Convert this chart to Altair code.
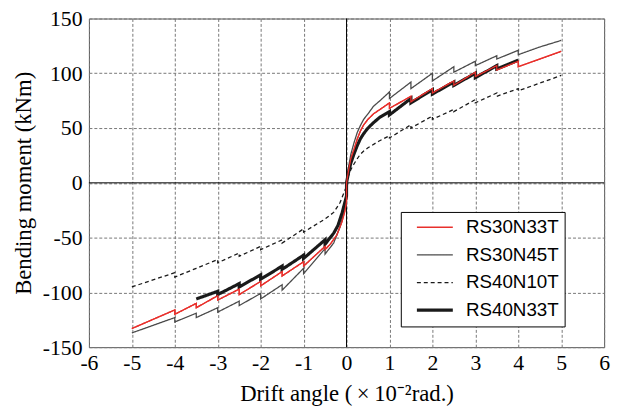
import altair as alt
import pandas as pd

series_names = ["RS30N33T", "RS30N45T", "RS40N10T", "RS40N33T"]
series_colors = ["#e8302c", "#4a4a4a", "#1a1a1a", "#1a1a1a"]
series_dash = [[1, 0], [1, 0], [4, 3], [1, 0]]
series_width = [1.3, 1.3, 1.3, 3.2]

drift_rs30n33t = [-5, -4, -4, -3.5, -3.5, -3, -3, -2.5, -2.5, -2, -2, -1.5, -1.5, -1, -1, -0.5, -0.5,
                  -0.38, -0.23, -0.11, -0.04, 0,
                  0, 0.05, 0.1, 0.17, 0.25, 0.32, 0.4, 0.5, 0.63, 0.78, 1, 1, 1.5, 1.5, 2, 2,
                  2.5, 2.5, 3, 3, 3.5, 3.5, 4, 4, 4.5, 5]
moment_rs30n33t = [-133, -116, -120, -110, -114, -103, -107, -97, -102, -90, -94, -81, -85, -72, -76, -58, -61,
                   -56, -48, -36, -26, -17,
                   0, 12, 22, 30, 40, 47, 53, 58, 63, 67, 73, 68, 79, 74, 86, 82,
                   93, 89, 101, 97, 107, 103, 111, 106, 113, 120]

drift_rs30n45t = [-5, -4, -4, -3.5, -3.5, -3, -3, -2.5, -2.5, -2, -2, -1.5, -1.5, -1, -1, -0.5, -0.5,
                  -0.3, -0.15, -0.07, 0,
                  0, 0.05, 0.1, 0.17, 0.25, 0.32, 0.4, 0.5, 0.63, 0.78, 1, 1, 1.5, 1.5, 2, 2,
                  2.5, 2.5, 3, 3, 3.5, 3.5, 4, 4, 4.5, 5]
moment_rs30n45t = [-137, -123, -127, -119, -123, -114, -118, -108, -112, -101, -106, -93, -98, -78, -83, -60, -65,
                   -55, -40, -28, -15,
                   0, 15, 26, 36, 46, 52, 58, 63, 70, 75, 83, 77, 92, 86, 100, 93,
                   106, 101, 111, 107, 116, 113, 121, 117, 124, 130]

drift_rs40n10t = [-5, -4, -4, -3.5, -3, -3, -2.5, -2.5, -2, -2, -1.5, -1.5, -1, -1, -0.5,
                  -0.3, -0.15, -0.05, 0,
                  0, 0.05, 0.1, 0.17, 0.25, 0.32, 0.4, 0.5, 0.75, 1, 1, 1.5, 1.5, 2, 2,
                  2.5, 2.5, 3, 3, 3.5, 3.5, 4, 4, 5]
moment_rs40n10t = [-95, -82, -86, -78, -70, -73, -64, -67, -58, -61, -52, -55, -42, -45, -33,
                   -27, -18, -8, -3,
                   0, 7, 12, 17, 22, 26, 29, 32, 38, 43, 41, 53, 50, 61, 58,
                   67, 65, 76, 73, 82, 79, 86, 84, 98]

drift_rs40n33t = [-3.5, -3, -3, -2.5, -2.5, -2, -2, -1.5, -1.5, -1, -1, -0.5, -0.5,
                  -0.3, -0.2, -0.1, 0,
                  0, 0.05, 0.1, 0.17, 0.25, 0.32, 0.4, 0.5, 0.63, 0.78, 1, 1, 1.5, 1.5, 2, 2,
                  2.5, 2.5, 3, 3, 3.5, 3.5, 4]
moment_rs40n33t = [-106, -99, -102, -92, -95, -84, -88, -76, -79, -66, -69, -52, -56,
                   -46, -39, -27, -12,
                   0, 10, 18, 26, 34, 40, 45, 50, 55, 60, 65, 62, 77, 73, 85, 81,
                   92, 89, 100, 96, 107, 104, 112]

x_ticks = list(range(-6, 7))
y_ticks = list(range(-150, 151, 25))

rows = []
for name, xs, ms in [("RS30N33T", drift_rs30n33t, moment_rs30n33t),
                     ("RS30N45T", drift_rs30n45t, moment_rs30n45t),
                     ("RS40N10T", drift_rs40n10t, moment_rs40n10t),
                     ("RS40N33T", drift_rs40n33t, moment_rs40n33t)]:
    for i, (xv, mv) in enumerate(zip(xs, ms)):
        rows.append({"series": name, "drift": xv, "moment": mv, "idx": i})
df = pd.DataFrame(rows)

serif = "Liberation Serif"

x_enc = alt.X("drift:Q", scale=alt.Scale(domain=[-6, 6], nice=False),
              axis=alt.Axis(values=x_ticks, title="Drift angle (\u2009×\u200910⁻²rad.)", labelFlush=False,
                            labelExpr="toString(datum.value)", labelFont=serif, labelFontSize=22,
                            titleFont=serif, titleFontSize=23, titleFontWeight="normal"))
y_enc = alt.Y("moment:Q", scale=alt.Scale(domain=[-150, 150], nice=False),
              axis=alt.Axis(values=y_ticks, title="Bending moment (kNm)", labelFlush=False,
                            labelExpr="datum.value % 50 == 0 ? toString(datum.value) : ''",
                            labelFont=serif, labelFontSize=22,
                            titleFont=serif, titleFontSize=23, titleFontWeight="normal"))

legend = alt.Legend(title=None, orient="none", legendX=316, legendY=196,
                    labelExpr="datum.label + '    '")
color_enc = alt.Color("series:N", scale=alt.Scale(type="ordinal", domain=series_names, range=series_colors),
                      legend=legend)
dash_enc = alt.StrokeDash("series:N", scale=alt.Scale(type="ordinal", domain=series_names, range=series_dash),
                          legend=legend)
width_enc = alt.StrokeWidth("series:N", scale=alt.Scale(type="ordinal", domain=series_names, range=series_width),
                            legend=legend)

lines = alt.Chart(df).mark_line(strokeCap="butt", strokeJoin="miter").encode(
    x=x_enc, y=y_enc, color=color_enc, strokeDash=dash_enc, strokeWidth=width_enc,
    order=alt.Order("idx:Q"), detail="series:N")

red_top = alt.Chart(df).transform_filter(alt.datum.series == "RS30N33T").mark_line(
    strokeCap="butt", strokeJoin="miter").encode(
    x=x_enc, y=y_enc, color=color_enc, strokeDash=dash_enc, strokeWidth=width_enc,
    order=alt.Order("idx:Q"))

zx = alt.Chart(pd.DataFrame({"drift": [0]})).mark_rule(color="black", strokeWidth=1).encode(x="drift:Q")
zy = alt.Chart(pd.DataFrame({"moment": [0]})).mark_rule(color="black", strokeWidth=1).encode(y="moment:Q")

chart = alt.layer(zx, zy, lines, red_top).properties(
    width=522, height=333,
    autosize=alt.AutoSizeParams(type="none"),
    padding={"left": 82, "top": 8, "right": 9, "bottom": 60},
    background="white",
).configure_view(
    stroke="#555555", strokeWidth=1
).configure_axis(
    grid=True, gridColor="#777777", gridDash=[3, 2], gridWidth=1,
    domain=False, ticks=False,
    labelFont=serif, labelFontSize=22, labelColor="black",
    titleFont=serif, titleFontSize=23, titleFontWeight="normal", titleColor="black",
    labelOverlap=False,
).configure_axisX(
    labelPadding=6, titlePadding=9
).configure_axisY(
    labelPadding=7, titlePadding=7
).configure_legend(
    padding=6, strokeColor="black", fillColor="white", strokeWidth=1,
    symbolType="M-2.6,0H2.6", symbolSize=196, symbolOffset=19, labelOffset=22,
    labelFont="Liberation Sans", labelFontSize=19, labelColor="black",
    rowPadding=8, cornerRadius=0,
)

chart.save("out.html", embed_options={"renderer": "svg", "actions": False})
